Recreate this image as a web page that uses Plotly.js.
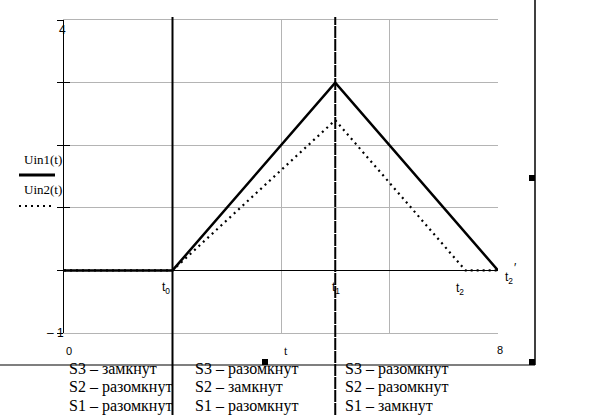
<!DOCTYPE html>
<html>
<head>
<meta charset="utf-8">
<script src="https://cdn.plot.ly/plotly-3.0.1.min.js"></script>
<style>html,body{margin:0;padding:0;background:#fff;}#chart{width:608px;height:415px;}</style>
</head>
<body>
<div id="chart"></div>
<script>
// ---- data ----
var tUin1 = [0, 2, 5, 8];
var uin1  = [0, 0, 3, 0];
var tUin2 = [0, 2, 5, 7.4, 8];
var uin2  = [0, 0, 2.4, 0, 0];
var eventTimes  = [2, 5];            // t0, t1 switching moments
var eventLabels = ['t<sub>0</sub>', 't<sub>1</sub>'];
var t2 = 7.4, t2p = 8;
var yTickVals = [-1, 0, 1, 2, 3, 4];
var switchStates = [
  ['S3 – замкнут', 'S2 – разомкнут', 'S1 – разомкнут'],
  ['S3 – разомкнут', 'S2 – замкнут', 'S1 – разомкнут'],
  ['S3 – разомкнут', 'S2 – разомкнут', 'S1 – замкнут']
];

// ---- geometry helpers (pixels -> paper) ----
var W = 608, H = 415, L = 64, R = 110, T = 20, B = 82;
var PW = W - L - R, PH = H - T - B;
function px(x) { return (x - L) / PW; }
function py(y) { return (H - B - y) / PH; }

var serif = 'Liberation Serif, Times New Roman, serif';
var sans = 'Liberation Sans, Arial, sans-serif';

var traces = [
  {x: tUin1, y: uin1, type: 'scatter', mode: 'lines', line: {color: '#000', width: 2.5}, hoverinfo: 'skip', showlegend: false},
  {x: tUin2, y: uin2, type: 'scatter', mode: 'lines', line: {color: '#000', width: 2.2, dash: '2px,4px'}, hoverinfo: 'skip', showlegend: false},
  {x: tUin1, y: uin1, yaxis: 'y2', type: 'scatter', mode: 'lines', line: {width: 0}, opacity: 0, hoverinfo: 'skip', showlegend: false}
];

var shapes = [];
eventTimes.forEach(function (te, i) {
  shapes.push({type: 'line', xref: 'x', yref: 'paper', x0: te, x1: te, y0: py(415), y1: py(17),
    line: {color: '#000', width: 2, dash: i === 0 ? 'solid' : '12px,1px'}, layer: 'above'});
});
// Mathcad region frame lines and handles
shapes.push({type: 'line', xref: 'paper', yref: 'paper', x0: px(535), x1: px(535), y0: py(0), y1: py(365), line: {color: '#000', width: 1.5}});
shapes.push({type: 'line', xref: 'paper', yref: 'paper', x0: px(0), x1: px(535), y0: py(365), y1: py(365), line: {color: '#000', width: 1.2}});
[[532, 178], [532, 362], [265, 362]].forEach(function (p) {
  shapes.push({type: 'rect', xref: 'paper', yref: 'paper', x0: px(p[0] - 3), x1: px(p[0] + 3), y0: py(p[1] + 3), y1: py(p[1] - 3), fillcolor: '#000', line: {width: 0}});
});
// legend samples
shapes.push({type: 'line', xref: 'paper', yref: 'paper', x0: px(19), x1: px(55), y0: py(175), y1: py(175), line: {color: '#000', width: 3}});
shapes.push({type: 'line', xref: 'paper', yref: 'paper', x0: px(19), x1: px(55), y0: py(206), y1: py(206), line: {color: '#000', width: 2.2, dash: '2px,4px'}});

var ann = [];
function txt(text, x, y, size, font, xanchor) {
  ann.push({text: text, xref: 'paper', yref: 'paper', x: px(x), y: py(y), xanchor: xanchor || 'center', yanchor: 'middle',
    showarrow: false, font: {family: font, size: size, color: '#000'}});
}
txt('4', 62, 30, 12, sans);
txt('– 1', 55, 333, 12, sans);
txt('0', 69, 351, 11, sans);
txt('8', 500, 350, 11, sans);
txt('t', 286, 351, 12, serif);
txt('Uin1(t)', 43, 159, 13, serif);
txt('Uin2(t)', 43, 190, 13, serif);
eventTimes.forEach(function (te, i) {
  ann.push({text: eventLabels[i], xref: 'x', yref: 'paper', x: te, y: py(288), xanchor: i === 0 ? 'right' : 'center', xshift: i === 0 ? -1 : 1,
    yanchor: 'middle', showarrow: false, font: {family: sans, size: 12, color: '#000'}});
});
ann.push({text: 't<sub>2</sub>', xref: 'x', yref: 'paper', x: t2, y: py(289), xanchor: 'center', xshift: -5, yanchor: 'middle', showarrow: false, font: {family: sans, size: 12, color: '#000'}});
ann.push({text: 't<sub>2</sub>', xref: 'x', yref: 'paper', x: t2p, y: py(278), xanchor: 'left', xshift: 5, yanchor: 'middle', showarrow: false, font: {family: sans, size: 12, color: '#000'}});
ann.push({text: '′', xref: 'x', yref: 'paper', x: t2p, y: py(268), xanchor: 'left', xshift: 14, yanchor: 'middle', showarrow: false, font: {family: sans, size: 12, color: '#000'}});

var colX = [67, 193, 343];
var rowY = [369, 387, 406];
switchStates.forEach(function (col, c) {
  col.forEach(function (s, r) { txt(s, colX[c], rowY[r], 16, serif, 'left'); });
});

var layout = {
  width: W, height: H,
  margin: {l: L, r: R, t: T, b: B, pad: 0},
  paper_bgcolor: '#fff', plot_bgcolor: '#fff',
  showlegend: false,
  xaxis: {range: [0, 8], dtick: 2, tick0: 0, showgrid: true, gridcolor: '#b4b4b4', gridwidth: 1,
    zeroline: false, showline: true, linecolor: '#b4b4b4', linewidth: 1, mirror: true,
    showticklabels: false, ticks: '', fixedrange: true},
  yaxis: {range: [-1, 4], tickvals: yTickVals, showgrid: true, gridcolor: '#b4b4b4', gridwidth: 1,
    zeroline: true, zerolinecolor: '#000', zerolinewidth: 1,
    showline: true, linecolor: '#000', linewidth: 1.5, mirror: false,
    ticks: 'outside', ticklen: 6, tickcolor: '#000', tickwidth: 1, showticklabels: false, fixedrange: true},
  yaxis2: {range: [-1, 4], tickvals: yTickVals, overlaying: 'y', side: 'left', showgrid: false, zeroline: false,
    showline: false, ticks: 'inside', ticklen: 6, tickcolor: '#000', tickwidth: 1, showticklabels: false, fixedrange: true},
  shapes: shapes,
  annotations: ann
};

Plotly.newPlot('chart', traces, layout, {staticPlot: true, displayModeBar: false});
</script>
</body>
</html>
